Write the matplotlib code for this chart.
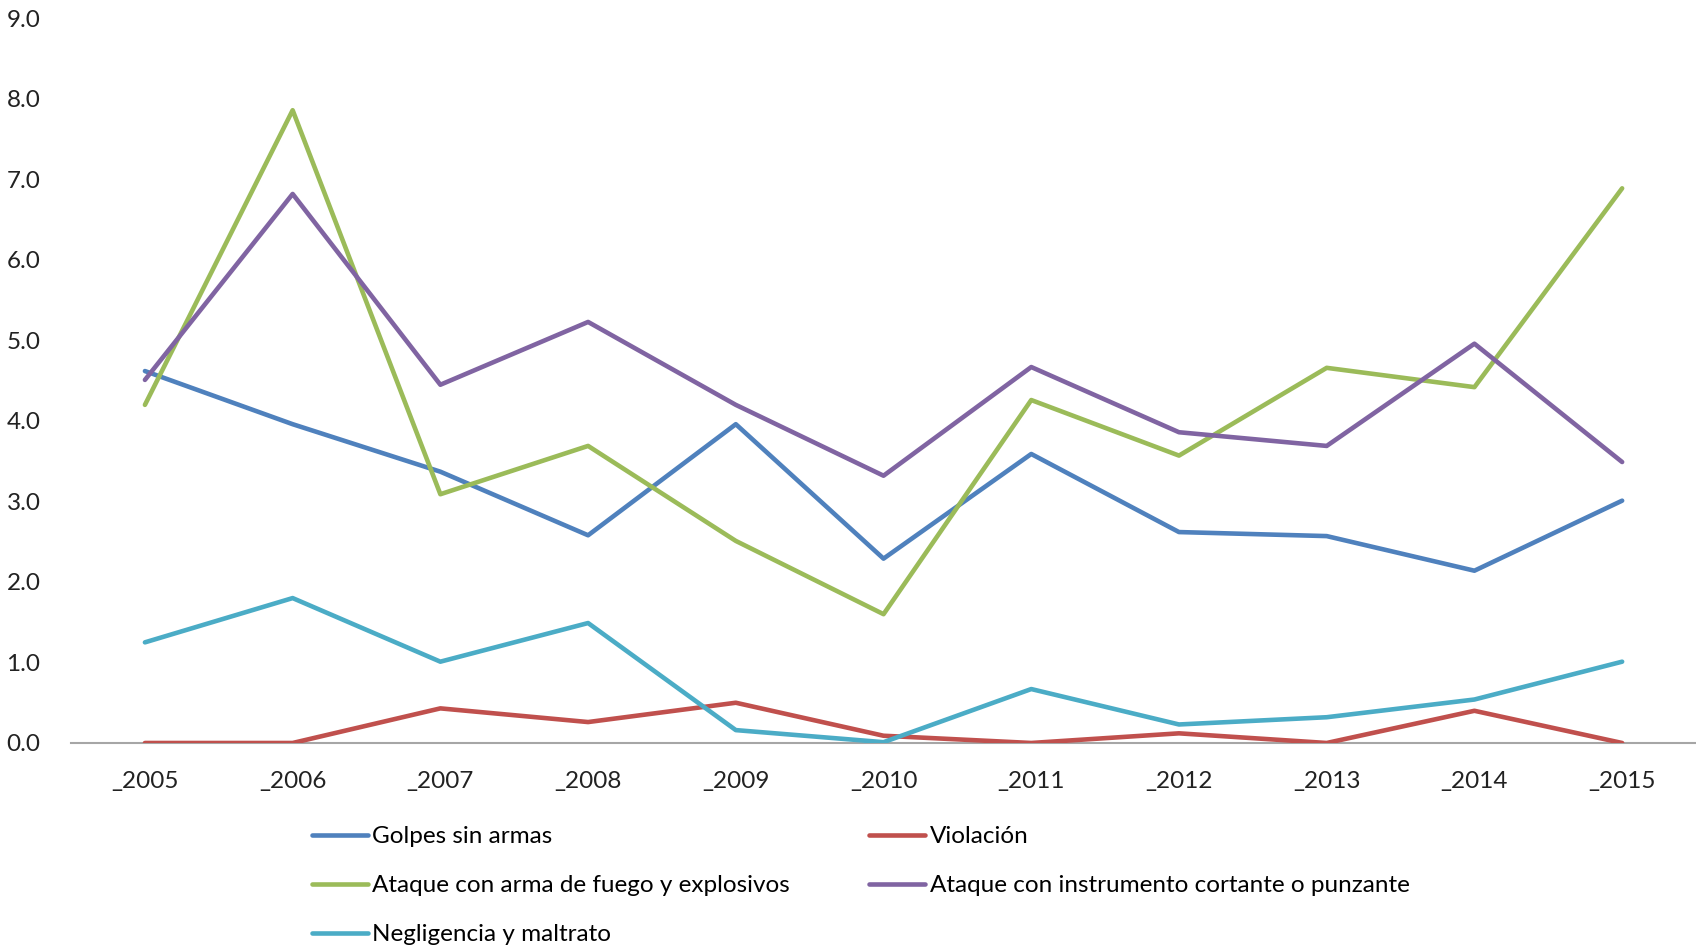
import matplotlib
matplotlib.use("Agg")
import matplotlib.pyplot as plt
from matplotlib.ticker import FormatStrFormatter

plt.rcParams['font.family'] = ['Lato', 'DejaVu Sans']

years = ["_2005", "_2006", "_2007", "_2008", "_2009", "_2010",
         "_2011", "_2012", "_2013", "_2014", "_2015"]

golpes = [4.62, 3.96, 3.37, 2.58, 3.96, 2.29, 3.59, 2.62, 2.57, 2.14, 3.01]
violacion = [0.0, 0.0, 0.43, 0.26, 0.50, 0.09, 0.0, 0.12, 0.0, 0.40, 0.0]
fuego = [4.20, 7.86, 3.09, 3.69, 2.51, 1.60, 4.26, 3.57, 4.66, 4.42, 6.89]
cortante = [4.51, 6.82, 4.45, 5.23, 4.20, 3.32, 4.67, 3.86, 3.69, 4.96, 3.49]
negligencia = [1.25, 1.80, 1.01, 1.49, 0.16, 0.01, 0.67, 0.23, 0.32, 0.54, 1.01]

fig = plt.figure(figsize=(16.96, 9.46), dpi=100)
ax = fig.add_axes([0.0419, 0.2146, 0.9581, 0.7659])

x = range(len(years))
lw = 3.3
h1, = ax.plot(x, golpes, color="#4F81BD", lw=lw, label="Golpes sin armas", solid_capstyle="round")
h2, = ax.plot(x, violacion, color="#C0504D", lw=lw, label="Violación", solid_capstyle="round")
h3, = ax.plot(x, fuego, color="#9BBB59", lw=lw, label="Ataque con arma de fuego y explosivos", solid_capstyle="round")
h4, = ax.plot(x, cortante, color="#8064A2", lw=lw, label="Ataque con instrumento cortante o punzante", solid_capstyle="round")
h5, = ax.plot(x, negligencia, color="#4BACC6", lw=lw, label="Negligencia y maltrato", solid_capstyle="round")

ax.set_xlim(-0.5, len(years) - 0.5)
ax.set_ylim(0, 9)
ax.set_yticks([i * 1.0 for i in range(10)])
ax.yaxis.set_major_formatter(FormatStrFormatter("%.1f"))
ax.set_xticks(list(x))
ax.set_xticklabels(years)

for s in ["top", "right", "left"]:
    ax.spines[s].set_visible(False)
ax.spines["bottom"].set_color("#A6A6A6")
ax.spines["bottom"].set_linewidth(1.5)
ax.spines["bottom"].set_zorder(0)
ax.tick_params(axis="both", length=0, labelsize=17.5, colors="#222222")
ax.tick_params(axis="y", pad=22)
ax.tick_params(axis="x", pad=20)

fig.legend(handles=[h1, h3, h5, h2, h4], loc="upper left",
           bbox_to_anchor=(0.178, 0.137), ncol=2, frameon=False,
           fontsize=17.5, handlelength=2.3, handletextpad=0.2,
           columnspacing=3.25, labelspacing=1.15, borderaxespad=0)

fig.savefig("out.png", dpi=100)
